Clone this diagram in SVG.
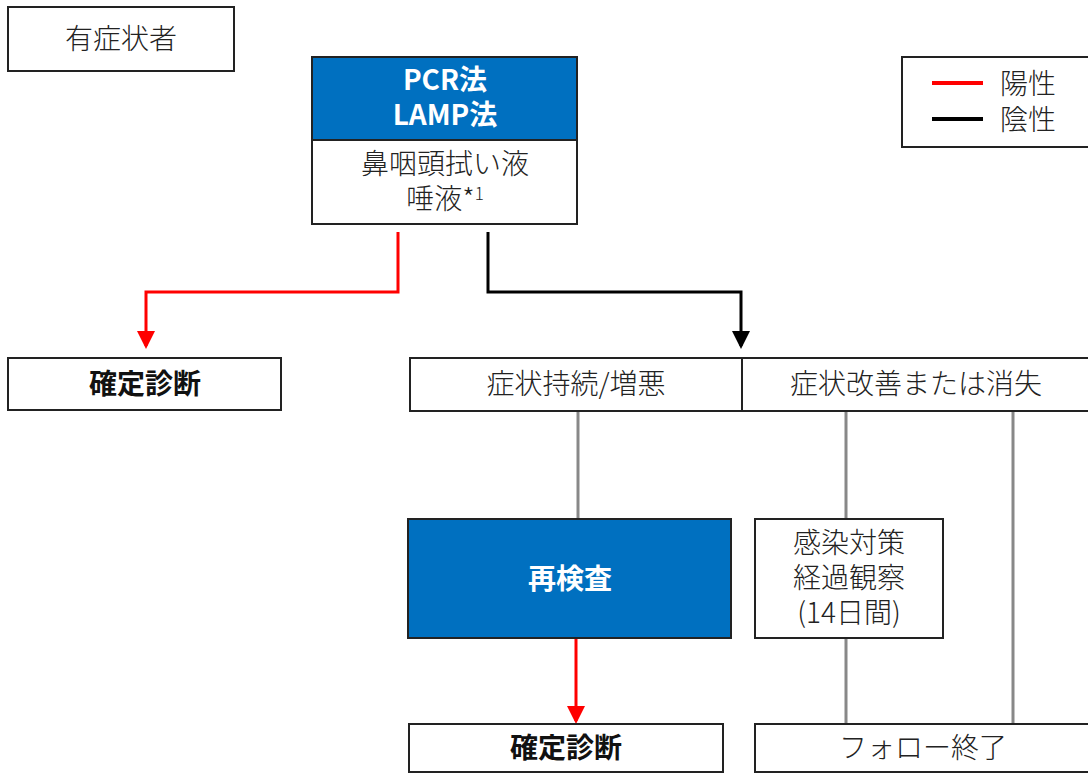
<svg xmlns="http://www.w3.org/2000/svg" width="1088" height="774" viewBox="0 0 1088 774">
<style>
.box{fill:#fff;stroke:#222;stroke-width:2}
.blue{fill:#0070c0;stroke:#222;stroke-width:2}
.t{font-family:"Noto Sans CJK JP","Noto Sans",sans-serif;font-size:28px;fill:#222;text-anchor:middle;font-weight:300}
.b{font-family:"Noto Sans CJK JP","Noto Sans",sans-serif;font-size:28px;fill:#111;text-anchor:middle;font-weight:700}
.w{font-family:"Noto Sans CJK JP","Noto Sans",sans-serif;font-size:28px;fill:#fff;text-anchor:middle;font-weight:700}
.red{fill:none;stroke:#ff0000;stroke-width:3}
.blk{fill:none;stroke:#000;stroke-width:3}
.gray{fill:none;stroke:#888;stroke-width:3}
</style>
<defs>
<marker id="ar" markerWidth="6" markerHeight="6" refX="5" refY="3" orient="auto" markerUnits="strokeWidth"><path d="M0,0 L6,3 L0,6 z" fill="#ff0000"/></marker>
<marker id="ab" markerWidth="6" markerHeight="6" refX="5" refY="3" orient="auto" markerUnits="strokeWidth"><path d="M0,0 L6,3 L0,6 z" fill="#000"/></marker>
</defs>
<g id="connectors">
<path class="red" d="M398,232 V292 H146 V346" marker-end="url(#ar)"/>
<path class="blk" d="M488,232 V292 H741 V346" marker-end="url(#ab)"/>
<path class="gray" d="M578,411 V519"/>
<path class="gray" d="M846,411 V519 M846,638 V723"/>
<path class="gray" d="M1013,411 V723"/>
<path class="red" d="M576,639 V721" marker-end="url(#ar)"/>
</g>
<g id="n-start"><rect class="box" x="8" y="7" width="226" height="64"/><text class="t" x="121" y="49">有症状者</text></g>
<g id="n-pcr">
<rect class="blue" x="312" y="57" width="265" height="83"/>
<rect class="box" x="312" y="140" width="265" height="84"/>
<text class="w" x="445" y="90">PCR法<tspan x="445" dy="35">LAMP法</tspan></text>
<text class="t" x="445" y="174">鼻咽頭拭い液<tspan x="445" dy="35">唾液*</tspan><tspan font-size="17" dy="-9">1</tspan></text>
</g>
<g id="n-legend">
<rect class="box" x="902" y="57" width="190" height="90"/>
<line x1="932" y1="83" x2="983" y2="83" stroke="#ff0000" stroke-width="4"/>
<line x1="932" y1="119" x2="983" y2="119" stroke="#000" stroke-width="4"/>
<text class="t" x="1000" y="94" style="text-anchor:start">陽性<tspan x="1000" dy="36">陰性</tspan></text>
</g>
<g id="n-diag1"><rect class="box" x="8" y="358" width="273" height="52"/><text class="b" x="145" y="394">確定診断</text></g>
<g id="n-sym">
<rect class="box" x="410" y="358" width="332" height="53"/>
<rect class="box" x="742" y="358" width="350" height="53"/>
<text class="t" x="576" y="394">症状持続/増悪</text>
<text class="t" x="916" y="394">症状改善または消失</text>
</g>
<g id="n-retest"><rect class="blue" x="408" y="519" width="323" height="119"/><text class="w" x="570" y="589">再検査</text></g>
<g id="n-obs">
<rect class="box" x="755" y="519" width="188" height="119"/>
<text class="t" x="849" y="553">感染対策<tspan x="849" dy="35">経過観察</tspan><tspan x="849" dy="35">(14日間)</tspan></text>
</g>
<g id="n-diag2"><rect class="box" x="409" y="724" width="314" height="48"/><text class="b" x="566" y="758">確定診断</text></g>
<g id="n-end"><rect class="box" x="755" y="724" width="337" height="48"/><text class="t" x="923" y="758">フォロー終了</text></g>
</svg>
